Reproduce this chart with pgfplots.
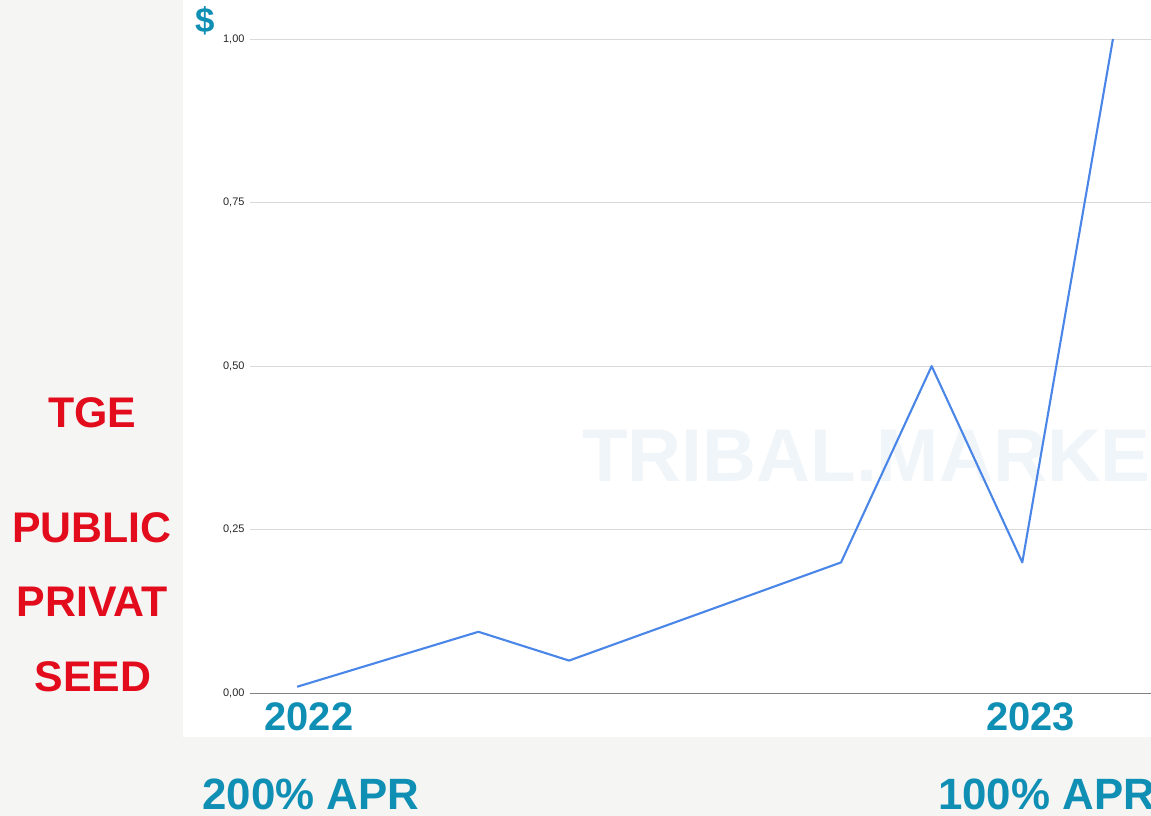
\documentclass[border=0pt]{standalone}
\usepackage{pgfplots}
\pgfplotsset{compat=1.18}
\usepackage{fontspec}
\setmainfont{Liberation Sans}
\definecolor{bgc}{RGB}{245,245,243}
\definecolor{teal}{RGB}{16,143,181}
\definecolor{redc}{RGB}{226,12,28}
\definecolor{linec}{RGB}{74,134,232}
\definecolor{wm}{RGB}{240,245,249}
\begin{document}
\begin{tikzpicture}[x=1bp,y=1bp]
\useasboundingbox (0,0) rectangle (1151,816);
\clip (0,0) rectangle (1151,816);
\fill[bgc] (0,0) rectangle (1151,816);
\fill[white] (183,79) rectangle (1151,816);
\node[anchor=base west,inner sep=0pt,text=wm,font=\fontsize{75}{80}\selectfont\bfseries] at (582,334) {TRIBAL.MARKET};
\begin{axis}[
  at={(250bp,122.7bp)}, anchor=south west,
  scale only axis, width=901bp, height=654.3bp,
  xmin=-0.52, xmax=9.42, ymin=0, ymax=1,
  axis line style={draw=none},
  xtick=\empty,
  ytick={0,0.25,0.5,0.75,1},
  ymajorgrids, grid style={draw=black!15, line width=0.8bp},
  major tick length=0pt,
  yticklabel style={font=\fontsize{11}{12}\selectfont, text=black!85, xshift=-2bp},
  /pgf/number format/.cd, fixed, fixed zerofill, precision=2, use comma, assume math mode=true,
  /pgfplots/.cd,
  clip=false,
]
\addplot[draw=black!50, line width=1.3bp] coordinates {(-0.52,0) (9.42,0)};
\addplot[linec, line width=2.1bp, mark=none, line join=round] coordinates {
(0,0.01) (2,0.094) (3,0.05) (6,0.2) (7,0.5) (8,0.2) (9,1.0)
};
\end{axis}
\node[inner sep=0pt,text=teal,font=\fontsize{35}{36}\selectfont\bfseries] at (205,795) {\$};
\node[inner sep=0pt,text=teal,font=\fontsize{40}{44}\selectfont\bfseries] at (309,99) {2022};
\node[inner sep=0pt,text=teal,font=\fontsize{40}{44}\selectfont\bfseries] at (1030.5,99) {2023};
\node[inner sep=0pt,text=teal,font=\fontsize{44}{48}\selectfont\bfseries] at (311,22) {200\% APR};
\node[anchor=west,inner sep=0pt,text=teal,font=\fontsize{44}{48}\selectfont\bfseries] at (938,22) {100\% APR};
\node[text=redc,font=\fontsize{43}{48}\selectfont\bfseries] at (92.5,403.5) {TGE};
\node[text=redc,font=\fontsize{43}{48}\selectfont\bfseries] at (92,288) {PUBLIC};
\node[text=redc,font=\fontsize{43}{48}\selectfont\bfseries] at (92,214) {PRIVAT};
\node[text=redc,font=\fontsize{43}{48}\selectfont\bfseries] at (93,139.3) {SEED};
\end{tikzpicture}
\end{document}
